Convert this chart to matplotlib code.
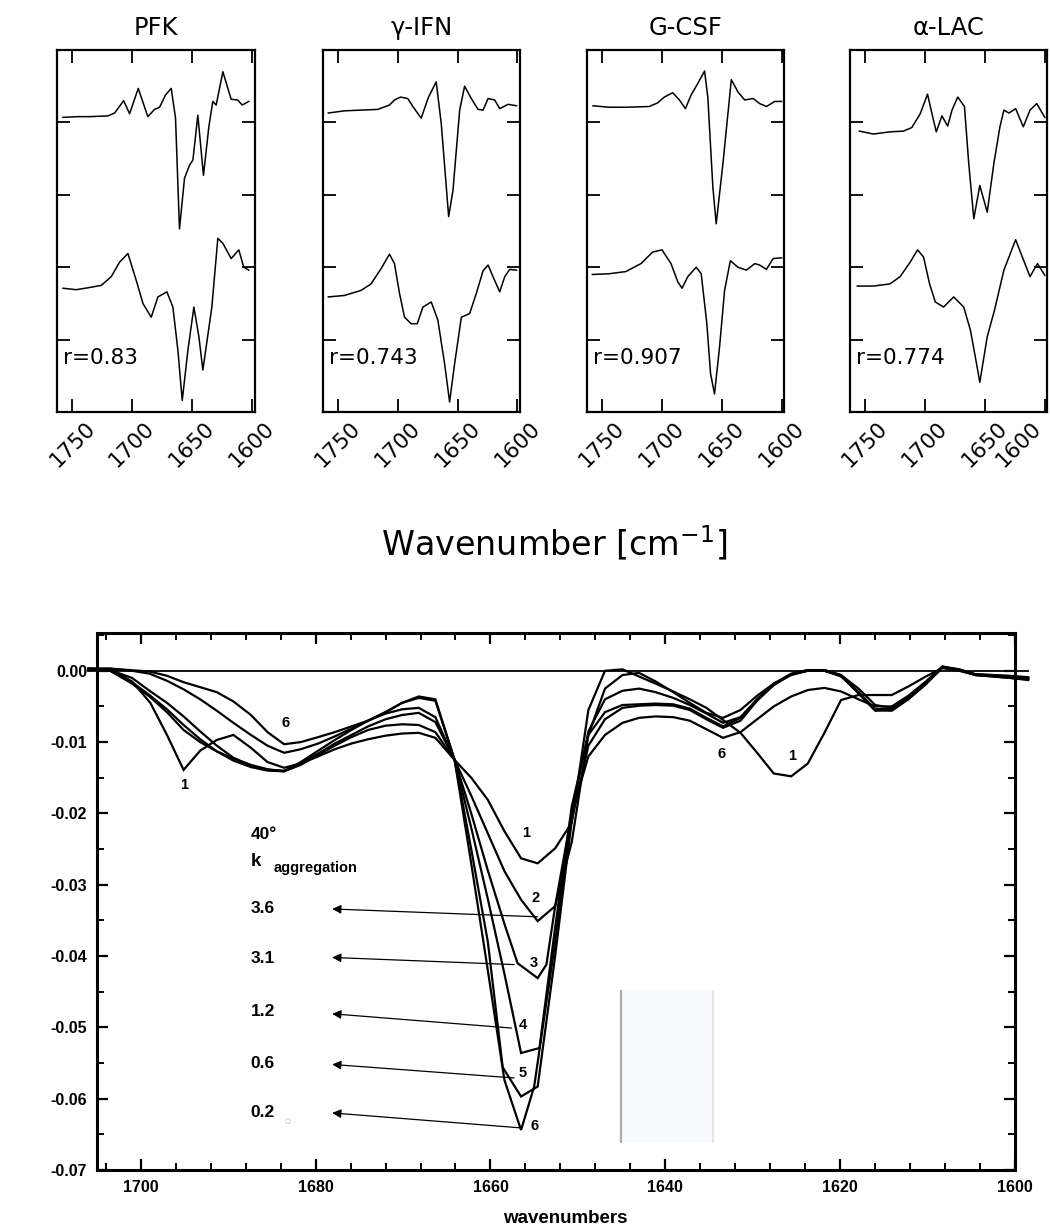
import matplotlib
matplotlib.use('Agg')
import matplotlib.pyplot as plt
from matplotlib.patches import Rectangle
from matplotlib.ticker import MultipleLocator
from matplotlib.transforms import ScaledTranslation

# ------------------------------------------------------------------ top panels data
titles = ['PFK', 'γ-IFN', 'G-CSF', 'α-LAC']
r_labels = ['r=0.83', 'r=0.743', 'r=0.907', 'r=0.774']
top_xticks = [1750, 1700, 1650, 1600]
top_xticklabels = ['1750', '1700', '1650', '1600']
top_yticks = [1, 2, 3, 4]

pfk_up_x = [1757.8, 1745, 1735, 1720.3, 1714.7, 1707.2, 1702.2, 1695.0, 1687.0, 1681.4, 1677.2, 1672.2,
            1667.5, 1663.9, 1660.6, 1656.4, 1652.2, 1649.4, 1645.3, 1640.6, 1636.1, 1632.8, 1630.0,
            1624.4, 1617.5, 1612.0, 1608.3, 1602.8]
pfk_up_y = [4.07, 4.08, 4.08, 4.09, 4.13, 4.30, 4.12, 4.47, 4.08, 4.18, 4.21, 4.38,
            4.47, 4.06, 2.53, 3.23, 3.41, 3.48, 4.10, 3.27, 3.94, 4.29, 4.24,
            4.70, 4.32, 4.31, 4.24, 4.29]
pfk_lo_x = [1757.8, 1746.7, 1735.6, 1725.8, 1717.5, 1710.6, 1703.6, 1696.7, 1691.1, 1684.2, 1678.6,
            1671.1, 1666.1, 1661.9, 1658.3, 1653.6, 1648.6, 1644.4, 1641.1, 1633.6, 1628.6, 1624.4,
            1617.5, 1611.1, 1607.0, 1602.8]
pfk_lo_y = [1.71, 1.69, 1.72, 1.75, 1.87, 2.07, 2.19, 1.82, 1.50, 1.31, 1.59,
            1.66, 1.45, 0.85, 0.16, 0.85, 1.45, 1.04, 0.58, 1.45, 2.40, 2.33,
            2.12, 2.24, 2.00, 1.96]

ifn_up_x = [1757.8, 1744.4, 1730.5, 1716.5, 1706.8, 1702.6, 1697.6, 1691.5, 1687.3, 1680.3, 1674.2,
            1667.8, 1663.6, 1657.4, 1653.8, 1648.2, 1644.1, 1638.5, 1632.9, 1628.7, 1624.5, 1619.0,
            1614.8, 1607.8, 1600.8]
ifn_up_y = [4.13, 4.16, 4.17, 4.18, 4.24, 4.31, 4.35, 4.33, 4.22, 4.06, 4.35,
            4.56, 3.99, 2.70, 3.06, 4.17, 4.50, 4.33, 4.18, 4.17, 4.33, 4.31,
            4.19, 4.25, 4.23]
ifn_lo_x = [1757.8, 1744.4, 1730.5, 1722.1, 1713.8, 1706.8, 1702.6, 1698.4, 1694.2, 1688.7, 1683.6,
            1678.9, 1671.9, 1666.4, 1660.8, 1656.6, 1652.4, 1646.8, 1639.9, 1634.3, 1628.7, 1624.5,
            1620.4, 1614.8, 1610.6, 1606.4, 1600.8]
ifn_lo_y = [1.59, 1.61, 1.68, 1.77, 1.98, 2.18, 2.05, 1.64, 1.31, 1.22, 1.22,
            1.45, 1.52, 1.27, 0.67, 0.14, 0.67, 1.31, 1.36, 1.64, 1.95, 2.03,
            1.87, 1.66, 1.87, 1.97, 1.96]

csf_up_x = [1757.3, 1743.9, 1729.9, 1710.3, 1703.4, 1697.8, 1690.8, 1685.2, 1680.2, 1675.4, 1669.8,
            1664.2, 1661.5, 1657.3, 1654.5, 1648.9, 1641.9, 1636.3, 1630.7, 1623.7, 1618.2, 1612.6,
            1605.6, 1600.0]
csf_up_y = [4.23, 4.21, 4.21, 4.22, 4.27, 4.35, 4.41, 4.31, 4.19, 4.38, 4.54,
            4.71, 4.35, 3.11, 2.60, 3.43, 4.59, 4.42, 4.31, 4.33, 4.26, 4.22,
            4.29, 4.29]
csf_lo_x = [1757.8, 1743.9, 1729.9, 1717.3, 1707.5, 1699.7, 1692.2, 1686.6, 1683.0, 1678.2, 1671.2,
            1667.0, 1662.3, 1659.2, 1655.9, 1651.7, 1647.5, 1642.7, 1636.3, 1629.3, 1622.3, 1618.2,
            1612.6, 1607.0, 1600.0]
csf_lo_y = [1.90, 1.91, 1.94, 2.05, 2.21, 2.24, 2.05, 1.80, 1.71, 1.87, 2.00,
            1.91, 1.22, 0.53, 0.25, 0.90, 1.68, 2.09, 2.00, 1.96, 2.05, 2.03,
            1.97, 2.12, 2.13]

lac_up_x = [1754.7, 1743.0, 1729.1, 1717.9, 1710.9, 1703.9, 1697.8, 1694.1, 1690.5, 1685.8, 1681.0,
            1677.4, 1672.6, 1667.0, 1663.4, 1659.2, 1654.2, 1648.0, 1642.5, 1637.4, 1634.1, 1629.9,
            1624.3, 1617.9, 1612.3, 1606.7, 1600.0]
lac_up_y = [3.88, 3.84, 3.87, 3.88, 3.93, 4.12, 4.39, 4.12, 3.87, 4.09, 3.95,
            4.17, 4.35, 4.22, 3.43, 2.67, 3.13, 2.76, 3.43, 3.94, 4.17, 4.13,
            4.19, 3.94, 4.17, 4.26, 4.07]
lac_lo_x = [1756.4, 1743.0, 1729.1, 1720.7, 1712.3, 1706.1, 1701.1, 1696.1, 1691.3, 1684.4, 1676.0,
            1667.6, 1662.0, 1656.4, 1654.2, 1648.0, 1641.9, 1634.1, 1624.3, 1618.7, 1612.3, 1606.1,
            1600.0]
lac_lo_y = [1.74, 1.74, 1.77, 1.87, 2.07, 2.24, 2.14, 1.77, 1.52, 1.45, 1.59,
            1.45, 1.13, 0.62, 0.41, 1.04, 1.41, 1.96, 2.38, 2.14, 1.87, 2.05,
            1.89]

top_traces = [
    ((pfk_up_x, pfk_up_y), (pfk_lo_x, pfk_lo_y)),
    ((ifn_up_x, ifn_up_y), (ifn_lo_x, ifn_lo_y)),
    ((csf_up_x, csf_up_y), (csf_lo_x, csf_lo_y)),
    ((lac_up_x, lac_up_y), (lac_lo_x, lac_lo_y)),
]

# ------------------------------------------------------------------ bottom panel data (values x 1e-3)
c1_x = [1706.0, 1703.5, 1701.0, 1698.9, 1697.0, 1695.1, 1693.2, 1691.3, 1689.4, 1687.4, 1685.5, 1683.6,
        1681.7, 1679.7, 1677.8, 1675.9, 1674.0, 1672.0, 1670.1, 1668.2, 1666.3, 1664.1, 1662.2, 1660.3,
        1658.4, 1656.5, 1654.6, 1652.6, 1650.7, 1648.8, 1646.9, 1644.9, 1643.0, 1641.1, 1639.1, 1637.2,
        1635.3, 1633.4, 1631.4, 1629.5, 1627.6, 1625.6, 1623.7, 1621.8, 1619.9, 1617.9, 1616.0, 1614.1,
        1612.2, 1610.2, 1608.3, 1606.4, 1604.5, 1602.5, 1600.6, 1598.5]
c1_y = [0.3, 0.2, -1.5, -4.5, -9.0, -13.9, -11.2, -9.7, -9.0, -10.8, -12.8, -13.6,
        -13.0, -12.0, -11.0, -10.2, -9.6, -9.1, -8.8, -8.7, -9.4, -12.5, -15.0, -18.1,
        -22.5, -26.3, -27.0, -24.9, -21.3, -5.5, 0.0, 0.2, -0.8, -1.8, -2.9, -4.0,
        -5.2, -6.9, -8.7, -11.5, -14.4, -14.8, -13.0, -8.7, -4.1, -3.4, -3.4, -3.4,
        -2.2, -0.8, 0.4, 0.1, -0.6, -0.8, -1.0, -1.3]

c2_x = [1706.0, 1703.5, 1701.0, 1699.0, 1697.0, 1695.1, 1693.2, 1691.3, 1689.4, 1687.4, 1685.5, 1683.6,
        1681.7, 1679.7, 1677.8, 1675.9, 1674.0, 1672.0, 1670.1, 1668.2, 1666.3, 1664.1, 1662.2, 1660.3,
        1658.4, 1656.5, 1654.6, 1652.6, 1650.7, 1648.8, 1646.9, 1644.9, 1643.0, 1641.1, 1639.1, 1637.2,
        1635.3, 1633.4, 1631.4, 1629.5, 1627.6, 1625.6, 1623.7, 1621.8, 1619.9, 1617.9, 1616.0, 1614.1,
        1612.2, 1610.2, 1608.3, 1606.4, 1604.5, 1602.5, 1600.6, 1598.5]
c2_y = [0.3, 0.0, -1.8, -3.6, -5.8, -8.3, -10.0, -11.3, -12.3, -13.2, -13.8, -14.1,
        -13.2, -11.8, -10.5, -9.3, -8.3, -7.7, -7.5, -7.6, -8.6, -12.5, -17.5, -22.8,
        -28.1, -32.1, -35.1, -33.0, -24.0, -9.0, -2.5, -0.6, -0.3, -1.5, -3.0, -4.5,
        -5.9, -6.6, -5.5, -3.5, -1.8, -0.6, 0.0, 0.1, -0.6, -2.5, -4.8, -5.2,
        -3.8, -1.8, 0.4, 0.0, -0.6, -0.7, -0.8, -1.0]

c3_x = [1706.0, 1703.5, 1701.0, 1699.0, 1697.0, 1695.1, 1693.2, 1691.3, 1689.4, 1687.4, 1685.5, 1683.6,
        1681.7, 1679.7, 1677.8, 1675.9, 1674.0, 1672.0, 1670.1, 1668.2, 1666.3, 1664.1, 1662.2, 1660.3,
        1658.4, 1656.9, 1654.6, 1653.6, 1652.6, 1650.7, 1648.8, 1646.9, 1644.9, 1643.0, 1641.1, 1639.1,
        1637.2, 1635.3, 1633.4, 1631.4, 1629.5, 1627.6, 1625.6, 1623.7, 1621.8, 1619.9, 1617.9, 1616.0,
        1614.1, 1612.2, 1610.2, 1608.3, 1606.4, 1604.5, 1602.5, 1600.6, 1598.5]
c3_y = [0.2, 0.1, -1.0, -2.8, -4.5, -6.4, -8.5, -10.5, -12.2, -13.3, -13.9, -14.0,
        -13.0, -11.6, -10.2, -9.0, -7.8, -6.8, -6.2, -5.9, -7.2, -12.5, -20.0, -28.0,
        -35.5, -41.0, -43.1, -41.2, -33.0, -20.0, -8.5, -4.0, -2.8, -2.5, -3.0, -3.8,
        -4.8, -6.0, -7.3, -6.5, -4.0, -2.0, -0.5, 0.0, 0.0, -0.8, -3.0, -5.5,
        -5.6, -4.0, -1.9, 0.5, 0.1, -0.5, -0.6, -0.7, -0.9]

c4_x = [1706.0, 1703.5, 1701.0, 1699.0, 1697.0, 1695.1, 1693.2, 1691.3, 1689.4, 1687.4, 1685.5, 1683.6,
        1681.7, 1679.7, 1677.8, 1675.9, 1674.0, 1672.0, 1670.1, 1668.2, 1666.3, 1664.1, 1662.2, 1660.3,
        1658.4, 1656.5, 1654.4, 1652.6, 1650.7, 1648.8, 1646.9, 1644.9, 1643.0, 1641.1, 1639.1, 1637.2,
        1635.3, 1633.4, 1631.4, 1629.5, 1627.6, 1625.6, 1623.7, 1621.8, 1619.9, 1617.9, 1616.0, 1614.1,
        1612.2, 1610.2, 1608.3, 1606.4, 1604.5, 1602.5, 1600.6, 1598.5]
c4_y = [0.2, 0.0, -1.6, -3.4, -5.4, -7.6, -9.6, -11.3, -12.6, -13.5, -14.0, -14.1,
        -12.8, -11.2, -9.7, -8.3, -7.0, -6.0, -5.4, -5.2, -6.5, -12.5, -22.0, -32.0,
        -42.5, -53.6, -52.9, -36.0, -19.0, -9.0, -5.8, -4.8, -4.7, -4.6, -4.7, -5.3,
        -6.6, -7.8, -6.6, -4.0, -1.8, -0.4, 0.1, 0.0, -0.7, -3.2, -5.6, -5.5,
        -3.9, -1.8, 0.5, 0.2, -0.6, -0.8, -1.0, -1.2]

c5_x = [1706.0, 1703.5, 1701.0, 1699.0, 1697.0, 1695.1, 1693.2, 1691.3, 1689.4, 1687.4, 1685.5, 1683.6,
        1681.7, 1679.7, 1677.8, 1675.9, 1674.0, 1672.0, 1670.1, 1668.2, 1666.3, 1664.1, 1662.2, 1660.3,
        1658.6, 1656.5, 1654.6, 1652.6, 1650.7, 1648.8, 1646.9, 1644.9, 1643.0, 1641.1, 1639.1, 1637.2,
        1635.3, 1633.4, 1631.4, 1629.5, 1627.6, 1625.6, 1623.7, 1621.8, 1619.9, 1617.9, 1616.0, 1614.1,
        1612.2, 1610.2, 1608.3, 1606.4, 1604.5, 1602.5, 1600.6, 1598.5]
c5_y = [0.3, 0.3, 0.0, -0.4, -1.4, -2.6, -4.0, -5.6, -7.3, -9.0, -10.5, -11.5,
        -11.0, -10.2, -9.2, -8.1, -7.0, -5.8, -4.5, -3.8, -4.2, -12.5, -25.0, -38.0,
        -55.6, -59.7, -58.3, -40.0, -21.0, -10.5, -6.8, -5.2, -4.9, -4.8, -4.9, -5.5,
        -6.8, -8.0, -7.0, -4.2, -2.0, -0.5, 0.1, 0.1, -0.6, -3.0, -5.4, -5.3,
        -3.7, -1.6, 0.6, 0.2, -0.5, -0.7, -0.9, -1.1]

c6_x = [1706.0, 1703.5, 1701.3, 1699.0, 1697.0, 1695.1, 1693.2, 1691.3, 1689.4, 1687.4, 1685.5, 1683.6,
        1681.7, 1679.7, 1677.8, 1675.9, 1674.0, 1672.0, 1670.1, 1668.2, 1666.3, 1664.1, 1662.2, 1660.3,
        1658.4, 1656.5, 1655.0, 1652.6, 1650.7, 1648.8, 1646.9, 1644.9, 1643.0, 1641.1, 1639.1, 1637.2,
        1635.3, 1633.4, 1631.4, 1629.5, 1627.6, 1625.6, 1623.7, 1621.8, 1619.9, 1617.9, 1616.0, 1614.1,
        1612.2, 1610.2, 1608.3, 1606.4, 1604.5, 1602.5, 1600.6, 1598.5]
c6_y = [0.3, 0.3, 0.1, -0.1, -0.7, -1.6, -2.3, -3.0, -4.3, -6.2, -8.6, -10.3,
        -10.0, -9.3, -8.6, -7.8, -7.0, -5.8, -4.5, -3.6, -4.0, -12.5, -27.0, -42.0,
        -57.4, -64.4, -58.3, -38.0, -20.0, -12.0, -9.0, -7.3, -6.6, -6.4, -6.5, -7.0,
        -8.2, -9.4, -8.6, -6.8, -5.0, -3.6, -2.7, -2.4, -2.9, -4.0, -5.0, -5.0,
        -3.5, -1.5, 0.6, 0.1, -0.5, -0.6, -0.8, -1.0]

bottom_curves = [(c1_x, c1_y), (c2_x, c2_y), (c3_x, c3_y), (c4_x, c4_y), (c5_x, c5_y), (c6_x, c6_y)]

# curve number labels (text, wavenumber, value)
curve_labels = [('1', 1695.0, -0.0160), ('6', 1683.4, -0.0073), ('1', 1655.9, -0.0228),
                ('2', 1654.8, -0.0319), ('3', 1655.0, -0.0410), ('4', 1656.3, -0.0497),
                ('5', 1656.3, -0.0564), ('6', 1655.0, -0.0638), ('6', 1633.6, -0.0116),
                ('1', 1625.5, -0.0120)]

# k aggregation values and arrows
k_values = ['3.6', '3.1', '1.2', '0.6', '0.2']
k_label_y = [-0.0334, -0.0403, -0.0478, -0.0550, -0.0620]
arrow_from_x = [1654.6, 1657.3, 1657.6, 1657.3, 1656.5]
arrow_from_y = [-0.0345, -0.0412, -0.0501, -0.0571, -0.0641]
arrow_tip_x = 1678.1
arrow_tip_y = [-0.0334, -0.0402, -0.0481, -0.0552, -0.0620]
k_label_x = 1687.45

bottom_xticks = [1700, 1680, 1660, 1640, 1620, 1600]
bottom_xticklabels = ['1700', '1680', '1660', '1640', '1620', '1600']
bottom_yticks = [0.00, -0.01, -0.02, -0.03, -0.04, -0.05, -0.06, -0.07]
bottom_yticklabels = ['0.00', '-0.01', '-0.02', '-0.03', '-0.04', '-0.05', '-0.06', '-0.07']

zero_line_x = [1706.0, 1598.5]
box_x = [1645.1, 1634.5]
box_y = [-0.0662, -0.0447]

# ------------------------------------------------------------------ figure
fig = plt.figure(figsize=(10.5, 12.26), dpi=100)

top_lefts = [0.0546, 0.3073, 0.5588, 0.8095]
top_width = 0.1878
shift_center = ScaledTranslation(0.05, 0, fig.dpi_scale_trans)
shift_right = ScaledTranslation(0.06, 0, fig.dpi_scale_trans)
for i, left in enumerate(top_lefts):
    ax = fig.add_axes([left, 0.6639, top_width, 0.2953])
    (ux, uy), (lx, ly) = top_traces[i]
    ax.plot(ux, uy, color='black', lw=1.1)
    ax.plot(lx, ly, color='black', lw=1.1)
    ax.set_xlim(1762.5, 1598)
    ax.set_ylim(0, 5)
    ax.set_yticks(top_yticks)
    ax.set_yticklabels([])
    ax.set_xticks(top_xticks)
    ax.set_xticklabels(top_xticklabels, rotation=45, va='top',
                       fontsize=15.5, family='DejaVu Sans')
    labs = ax.get_xticklabels()
    last_panel = (i == len(top_lefts) - 1)
    for j, lab in enumerate(labs):
        if last_panel and j == len(labs) - 1:
            lab.set_ha('right')
            lab.set_transform(lab.get_transform() + shift_right)
        else:
            lab.set_ha('center')
            lab.set_transform(lab.get_transform() + shift_center)
    ax.tick_params(direction='in', length=9.5, width=1.3, top=True, right=True, pad=4)
    for s in ax.spines.values():
        s.set_linewidth(1.6)
    ax.set_title(titles[i], fontsize=17.5, family='DejaVu Sans', pad=11)
    ax.text(0.03, 0.148, r_labels[i], transform=ax.transAxes, fontsize=15.5,
            family='DejaVu Sans', ha='left', va='center')

fig.text(0.528, 1 - 543 / 1226, 'Wavenumber [cm$^{-1}$]', fontsize=24,
         family='DejaVu Sans', ha='center', va='center')

# ------------------------------------------------------------------ bottom panel
bfont = dict(family='Liberation Sans', fontweight='bold')
ax = fig.add_axes([0.0924, 0.0457, 0.8743, 0.438])
ax.set_xlim(1705, 1600)
ax.set_ylim(-0.07, 0.0053)

ax.add_patch(Rectangle((box_x[1], box_y[0]), box_x[0] - box_x[1], box_y[1] - box_y[0],
                       facecolor='#f8fafd', edgecolor='none', zorder=0))
ax.vlines([box_x[0]], box_y[0], box_y[1], color='#a9adb2', lw=1.6, zorder=1)
ax.vlines([box_x[1]], box_y[0], box_y[1], color='#dfe2e6', lw=1.2, zorder=1)

ax.plot(zero_line_x, [0, 0], color='black', lw=1.3, clip_on=False)
for cx, cy in bottom_curves:
    ax.plot(cx, [v / 1000.0 for v in cy], color='black', lw=1.6, clip_on=False,
            solid_joinstyle='miter')

for t, xx, yy in curve_labels:
    ax.text(xx, yy, t, fontsize=10.5, ha='center', va='center', **bfont)

ax.text(k_label_x, -0.0230, '40°', fontsize=12.5, ha='left', va='center', **bfont)
ax.text(k_label_x, -0.0267, 'k', fontsize=13.5, ha='left', va='center', **bfont)
ax.text(1684.8, -0.0277, 'aggregation', fontsize=10.5, ha='left', va='center', **bfont)
for lab, ly in zip(k_values, k_label_y):
    ax.text(k_label_x, ly, lab, fontsize=12.5, ha='left', va='center', **bfont)
ax.text(1683.2, -0.0632, '○', fontsize=5, color='#b0b0b0', ha='center', va='center')
for fx, fy, ty in zip(arrow_from_x, arrow_from_y, arrow_tip_y):
    ax.annotate('', xy=(arrow_tip_x, ty), xytext=(fx, fy),
                arrowprops=dict(arrowstyle='-|>', color='black', lw=0.9,
                                mutation_scale=13, shrinkA=0, shrinkB=0))

ax.set_xticks(bottom_xticks)
ax.set_xticklabels(bottom_xticklabels, fontsize=11.5, **bfont)
ax.set_yticks(bottom_yticks)
ax.set_yticklabels(bottom_yticklabels, fontsize=11.5, **bfont)
ax.xaxis.set_minor_locator(MultipleLocator(4))
ax.yaxis.set_minor_locator(MultipleLocator(0.005))
ax.tick_params(which='major', direction='in', length=8, width=1.6, top=True, right=True, pad=7)
ax.tick_params(which='minor', direction='in', length=5, width=1.4, top=True, right=True)
for s in ax.spines.values():
    s.set_linewidth(2.2)
ax.set_xlabel('wavenumbers', fontsize=13.5, **bfont)
ax.xaxis.set_label_coords(0.51, -0.075)

fig.savefig('out.png', dpi=100)
